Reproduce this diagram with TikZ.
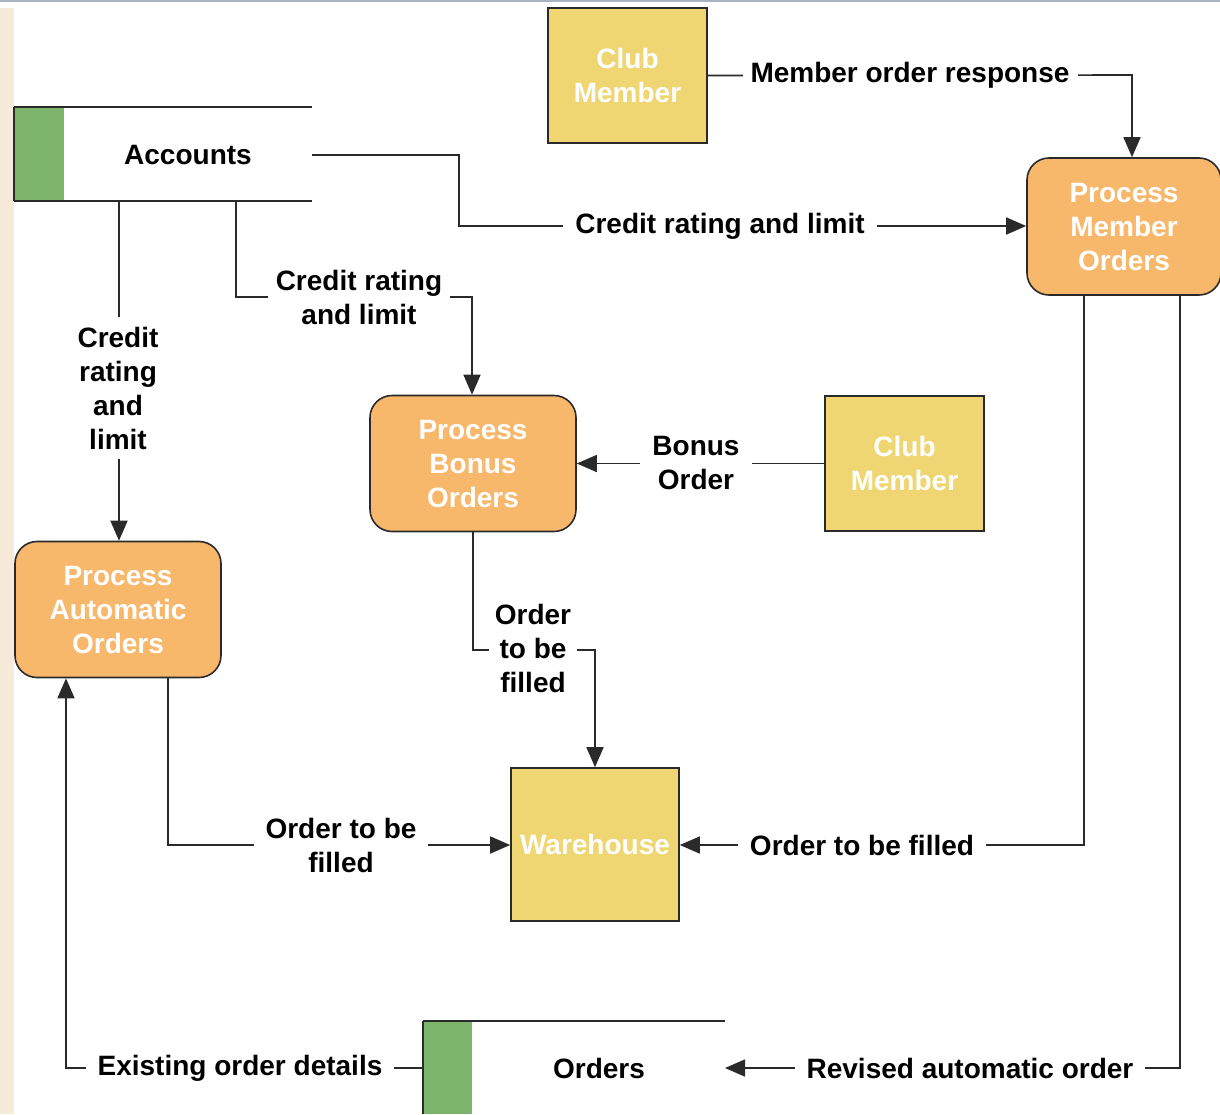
\documentclass[tikz,border=0pt]{standalone}
\usepackage{fontspec}
\setmainfont{Liberation Sans}
\usetikzlibrary{arrows.meta}
\definecolor{procfill}{HTML}{F8B86C}
\definecolor{extfill}{HTML}{EFD672}
\definecolor{dsgreen}{HTML}{7DB46C}
\definecolor{peach}{HTML}{F8EADB}
\definecolor{ink}{HTML}{2A2A2A}
\definecolor{topline}{HTML}{A9B4C2}
\tikzset{
  lbltext/.style={font=\bfseries\fontsize{28}{34}\selectfont, align=center},
  proc/.style={lbltext, draw=ink, line width=1.6pt, fill=procfill, text=white, rounded corners=22pt, minimum width=206pt, minimum height=136pt, inner sep=0pt},
  extent/.style={lbltext, draw=ink, line width=1.6pt, fill=extfill, text=white, inner sep=0pt},
  flow/.style={draw=ink, line width=1.6pt},
  arr/.style={flow, -{Triangle[length=20pt,width=17pt]}},
  lbl/.style={lbltext, fill=white, text=black, inner xsep=12pt, inner ysep=2pt},
  dsline/.style={draw=ink, line width=1.8pt}
}
\begin{document}
\begin{tikzpicture}[x=1pt,y=-1pt]
\useasboundingbox (0,0) rectangle (1220,1114);
\fill[peach] (0,8) rectangle (14,1114);
\draw[topline, line width=1.5pt] (0,1) -- (1220,1);

% data store Accounts
\fill[dsgreen] (14,107) rectangle (64,201);
\draw[dsline] (14,107) -- (312,107);
\draw[dsline] (14,201) -- (312,201);
\draw[dsline] (14,107) -- (14,201);
\node[lbltext] (acc) at (188,155) {Accounts};
\coordinate (accR) at (312,155);

% data store Orders
\fill[dsgreen] (423,1021) rectangle (472,1114);
\draw[dsline] (423,1021) -- (725,1021);
\draw[dsline] (423,1021) -- (423,1114);
\node[lbltext] (ord) at (599,1068) {Orders};
\coordinate (ordR) at (725,1068);
\coordinate (ordL) at (423,1068);

% external entities
\node[extent, minimum width=159pt, minimum height=135pt] (cm1) at (627.5,75.5) {Club\\Member};
\node[extent, minimum width=159pt, minimum height=135pt] (cm2) at (904.5,463.5) {Club\\Member};
\node[extent, minimum width=168pt, minimum height=153pt] (wh) at (595,844.5) {Warehouse};

% processes
\node[proc, minimum width=194pt, minimum height=137pt] (pmo) at (1124,226.5) {Process\\Member\\Orders};
\node[proc] (pbo) at (473,463.5) {Process\\Bonus\\Orders};
\node[proc] (pao) at (118,609.5) {Process\\Automatic\\Orders};

% flows
\draw[arr] (cm1.east) -- (1132,75) -- (1132,0 |- pmo.north);
\draw[arr] (accR) -- (459,155) -- (459,226) -- (pmo.west |- 0,226);
\draw[arr] (236,201) -- (236,297) -- (472,297) -- (472,0 |- pbo.north);
\draw[arr] (119,201) -- (119,0 |- pao.north);
\draw[arr] (cm2.west) -- (pbo.east);
\draw[arr] (pbo.south) -- (473,650) -- (595,650) -- (wh.north);
\draw[arr] (168,0 |- pao.south) -- (168,845) -- (wh.west |- 0,845);
\draw[arr] (1084,0 |- pmo.south) -- (1084,845) -- (wh.east |- 0,845);
\draw[arr] (1180,0 |- pmo.south) -- (1180,1068) -- (ordR);
\draw[arr] (ordL) -- (66,1068) -- (66,0 |- pao.south);

% flow labels
\node[lbl, inner xsep=8pt] (l1) at (910,75) {Member order response};
\node[lbl] (l2) at (720,226) {Credit rating and limit};
\node[lbl, inner xsep=8pt] (l3) at (359,297) {Credit rating\\and limit};
\node[lbl, inner ysep=10pt] (l4) at (118,388) {Credit\\rating\\and\\limit};
\node[lbl] (l5) at (696,463) {Bonus\\Order};
\node[lbl, inner xsep=6pt] (l6) at (533,648) {Order\\to be\\filled};
\node[lbl] (l7) at (341,845) {Order to be\\filled};
\node[lbl] (l8) at (862,845) {Order to be filled};
\node[lbl] (l9) at (970,1068) {Revised automatic order};
\node[lbl] (l10) at (240,1068) {Existing order details};
\end{tikzpicture}
\end{document}
